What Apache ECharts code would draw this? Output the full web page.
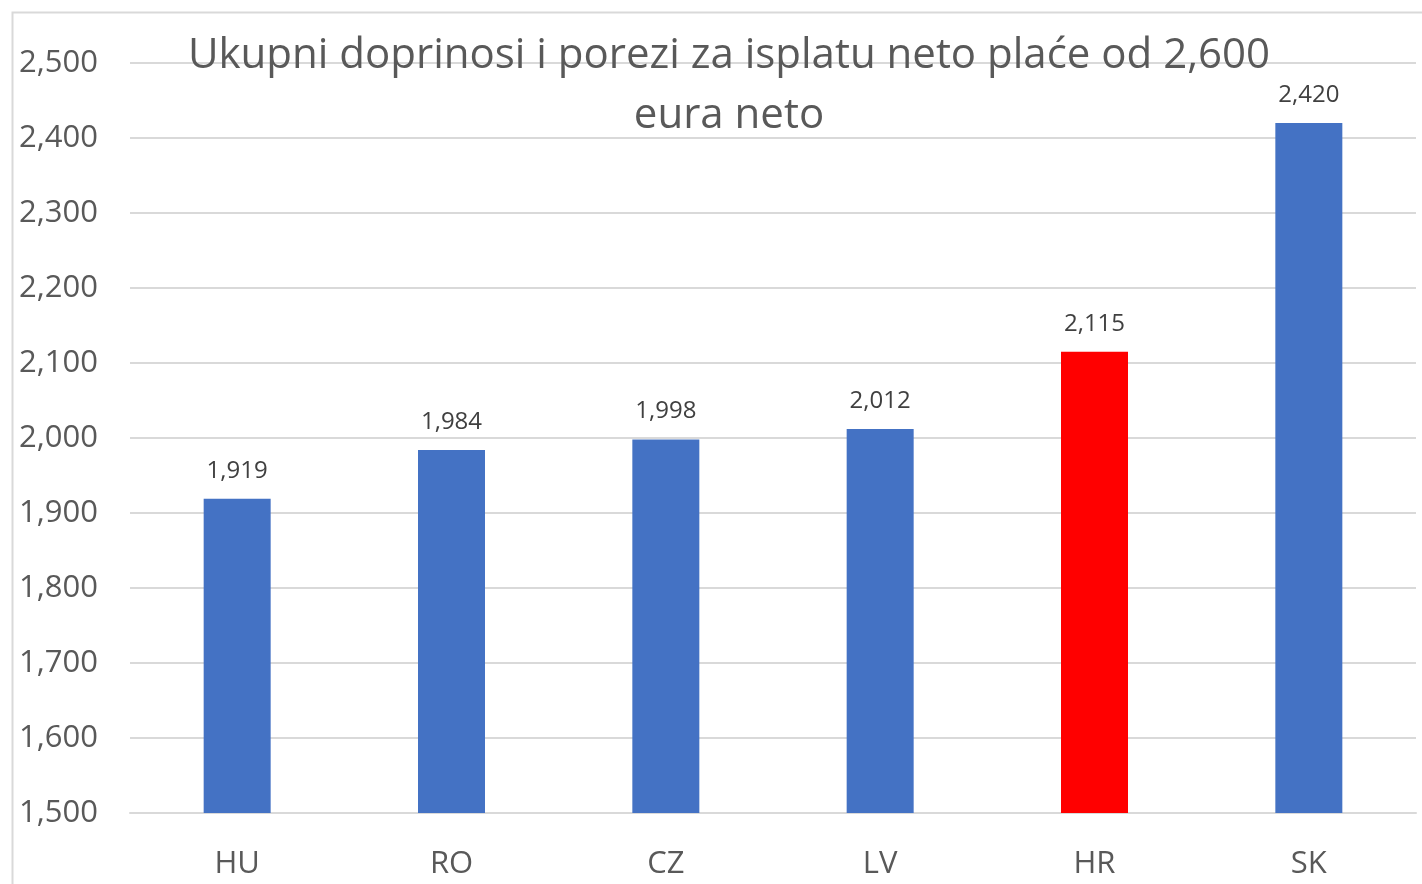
<!DOCTYPE html>
<html>
<head>
<meta charset="utf-8">
<script src="https://cdn.jsdelivr.net/npm/echarts@6/dist/echarts.min.js"></script>
<style>
  html, body { margin: 0; padding: 0; background: #fff; }
  #chart { width: 1422px; height: 884px; }
</style>
</head>
<body>
<div id="chart"></div>
<script>
var countries = ['HU', 'RO', 'CZ', 'LV', 'HR', 'SK'];
var values = [1919, 1984, 1998, 2012, 2115, 2420];
var highlight = 'HR'; // Hrvatska u crvenom

var myChart = echarts.init(document.getElementById('chart'));

var barData = values.map(function (v, i) {
    return {
        value: v,
        itemStyle: { color: countries[i] === highlight ? '#ff0000' : '#4472c4' }
    };
});

var option = {
    backgroundColor: '#fff',
    textStyle: { fontFamily: 'Open Sans' },
    title: {
        text: 'Ukupni doprinosi i porezi za isplatu neto plaće od 2,600\neura neto',
        left: 724,
        top: 21,
        textAlign: 'center',
        textStyle: {
            fontSize: 42,
            fontWeight: 'normal',
            color: '#595959',
            lineHeight: 60,
            fontFamily: 'Open Sans'
        }
    },
    graphic: [{
        type: 'rect',
        shape: { x: 12.5, y: 12.5, width: 1430, height: 900 },
        style: { fill: 'none', stroke: '#d9d9d9', lineWidth: 2 },
        z: -1
    }],
    grid: {
        left: 130,
        right: 6,
        top: 63,
        bottom: 71,
        containLabel: false
    },
    xAxis: {
        type: 'category',
        data: countries,
        axisLine: { show: true, lineStyle: { color: '#d9d9d9', width: 2 } },
        axisTick: { show: false },
        axisLabel: { color: '#595959', fontSize: 31, margin: 36 }
    },
    yAxis: {
        type: 'value',
        min: 1500,
        max: 2500,
        interval: 100,
        axisLine: { show: false },
        axisTick: { show: false },
        splitLine: { lineStyle: { color: '#d9d9d9', width: 2 } },
        axisLabel: {
            color: '#595959',
            fontSize: 31,
            margin: 32,
            formatter: function (v) { return v.toLocaleString('en-US'); }
        }
    },
    series: [{
        type: 'bar',
        data: barData,
        barWidth: 67,
        label: {
            show: true,
            position: 'top',
            distance: 16,
            fontSize: 24,
            color: '#404040',
            formatter: function (p) { return p.value.toLocaleString('en-US'); }
        }
    }]
};

myChart.setOption(option);
</script>
</body>
</html>
